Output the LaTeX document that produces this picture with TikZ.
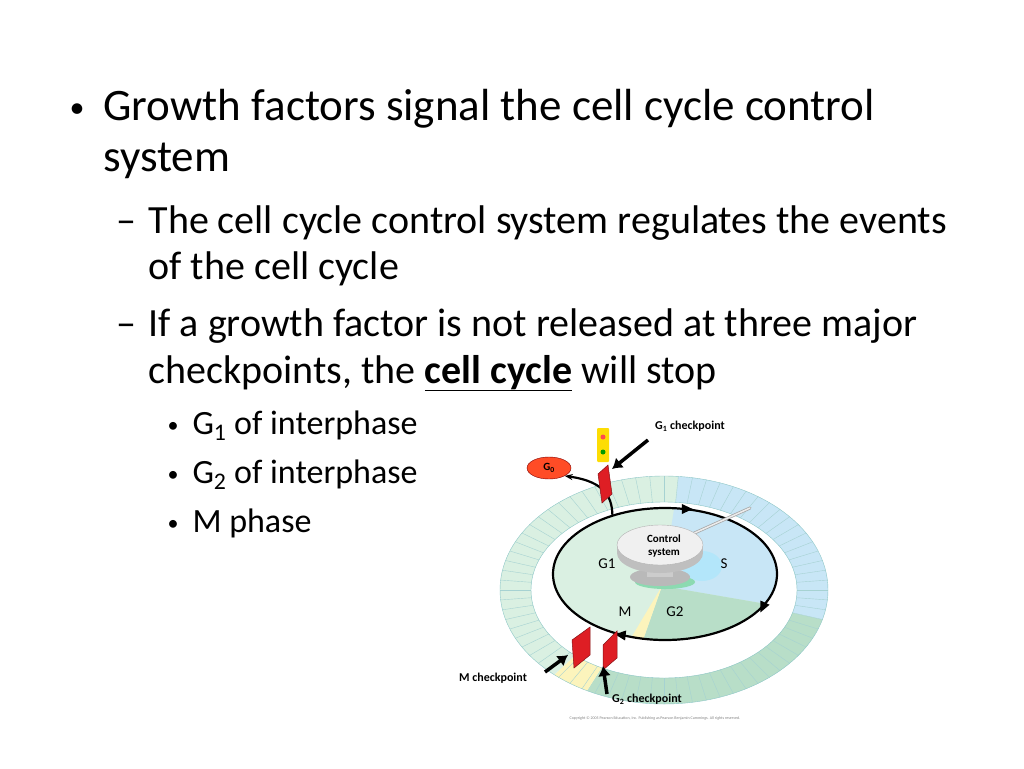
\documentclass[tikz,border=0pt]{standalone}
\usepackage{fontspec}
\setmainfont{Carlito}
\usetikzlibrary{positioning,calc,arrows.meta,shapes.geometric}
\definecolor{gonelight}{RGB}{218,240,226}
\definecolor{sblue}{RGB}{200,230,246}
\definecolor{gtwo}{RGB}{184,222,200}
\definecolor{mphase}{RGB}{252,244,188}
\definecolor{plate}{RGB}{222,30,36}
\begin{document}
\begin{tikzpicture}[x=1pt,y=-1pt,
		bigtext/.style={anchor=base west,font=\fontsize{45}{50}\selectfont},
		midtext/.style={anchor=base west,font=\fontsize{40}{44}\selectfont},
		smalltext/.style={anchor=base west,font=\fontsize{34}{38}\selectfont},
		phase/.style={font=\fontsize{15}{16}\selectfont},
		checklabel/.style={font=\bfseries\fontsize{12}{13}\selectfont},
		redplate/.style={fill=plate,draw=plate!60!black,line width=0.5pt},
		pointer/.style={line width=3.5pt,-{Latex[length=10pt,width=13pt]}},
		cycle/.style={line width=2.2pt,black},
	]
	\useasboundingbox (0,0) rectangle (1024,768);
	% slide text
	\node[bigtext] (b1) at (100,120) {Growth factors signal the cell cycle control};
	\node[bigtext] (b1b) at (100,171) {system};
	\node[font=\fontsize{30}{34}\selectfont,anchor=base east] at (88,117) {\textbullet};
	\node[midtext] (d1) at (145,233) {The cell cycle control system regulates the events};
	\node[midtext] (d1b) at (145,279) {of the cell cycle};
	\node[midtext,anchor=base east] at (140,233) {–};
	\node[midtext] (d2) at (145,336) {If a growth factor is not released at three major};
	\node[midtext] (d2b) at (145,383) {checkpoints, the \textbf{\underline{cell cycle}} will stop};
	\node[midtext,anchor=base east] at (140,336) {–};
	\node[smalltext] (s1) at (189,434) {G\textsubscript{1} of interphase};
	\node[smalltext] (s2) at (189,483) {G\textsubscript{2} of interphase};
	\node[smalltext] (s3) at (189,532) {M phase};
	\foreach \yy in {434,483,532}
		\node[font=\fontsize{22}{26}\selectfont,anchor=base east] at (182,\yy-2) {\textbullet};
	% outer ring
	\coordinate (O) at (664,590);
	\foreach \a/\b/\c in {-85/15/sblue,15/118/gtwo,118/132/mphase,132/275/gonelight}
		\fill[\c] ($(O)+(\a:164 and 114)$) arc[start angle=\a,end angle=\b,x radius=164,y radius=114]
			-- ($(O)+(\b:133 and 88)$) arc[start angle=\b,end angle=\a,x radius=133,y radius=88] -- cycle;
	\foreach \a in {0,5,...,355}
		\draw[white!65!teal,line width=0.4pt] ($(O)+(\a:164 and 114)$) -- ($(O)+(\a:133 and 88)$);
	\draw[white!55!teal,line width=0.4pt] (O) ellipse[x radius=164,y radius=114];
	\draw[white!55!teal,line width=0.4pt] (O) ellipse[x radius=133,y radius=88];
	% inner phases
	\coordinate (C) at (665,574);
	\coordinate (P) at (662,586);
	\begin{scope}
		\clip (C) ellipse[x radius=112,y radius=66];
		\fill[gonelight] (C) ellipse[x radius=112,y radius=66];
		\fill[sblue] (P) -- (677,490) -- (800,490) -- (800,600) -- (778,606) -- cycle;
		\fill[gtwo] (P) -- (778,606) -- (790,700) -- (622,700) -- cycle;
		\fill[mphase] (P) -- (622,700) -- (594,700) -- cycle;
	\end{scope}
	\fill[cyan!30] (702,566) ellipse[x radius=20,y radius=15];
	\fill[green!35!teal!45] (665,582) ellipse[x radius=30,y radius=7];
	% cycle arrow
	\draw[cycle] (C) ellipse[x radius=112,y radius=66];
	\foreach \a/\r in {-80/0,28/-115,112/174}
		\node[fill=black,isosceles triangle,isosceles triangle apex angle=50,inner sep=2.6pt,rotate=\r]
			at ($(C)+(\a:112 and 66)$) {};
	\node[ellipse,fill=red!65!orange!85,draw=red!50!black,minimum width=44pt,minimum height=22pt,inner sep=0pt,
		font=\bfseries\fontsize{11}{12}\selectfont] (gzero) at (549,468) {G\textsubscript{0}};
	\coordinate (branch) at ($(C)+(-118:112 and 66)$);
	\draw[cycle,-{Stealth[length=8pt]}] (branch) .. controls (612,500) and (608,482) .. (gzero.south east);
	% control system
	\draw[gray!70,line width=3pt,line cap=round] (690,535) -- (750,508);
	\draw[white!85!gray,line width=1.5pt,line cap=round] (690,535) -- (750,508);
	\fill[gray!55] (660,577) ellipse[x radius=30,y radius=9];
	\fill[gray!40] (647,560) rectangle (673,577);
	\fill[gray!50] (660,553) ellipse[x radius=43,y radius=20];
	\fill[gray!50] (617,545) rectangle (703,553);
	\filldraw[fill=gray!12,draw=gray!60] (660,545) ellipse[x radius=43,y radius=20];
	\node[font=\bfseries\fontsize{11}{13}\selectfont,align=center] (ctrl) at (664,546) {Control\\system};
	\node[phase] (g1) at (607,564) {G1};
	\node[phase] (s) at (724,564) {S};
	\node[phase] (m) at (625,612) {M};
	\node[phase] (g2) at (675,612) {G2};
	% checkpoints
	\fill[redplate] (598,474) -- (608,465) -- (612,494) -- (602,503) -- cycle;
	\fill[redplate] (572,640) -- (590,627) -- (590,655) -- (574,668) -- cycle;
	\fill[redplate] (603,645) -- (617,631) -- (617,658) -- (603,670) -- cycle;
	\fill[yellow!80!orange,rounded corners=1pt] (597,428) rectangle (609,462);
	\fill[red!70] (603,437) circle (2.5);
	\fill[green!60!black] (603,452) circle (2.5);
	\node[checklabel] (cg1) at (690,426) {G\textsubscript{1} checkpoint};
	\node[checklabel] (cm) at (493,678) {M checkpoint};
	\node[checklabel] (cg2) at (647,699) {G\textsubscript{2} checkpoint};
	\coordinate (g1tip) at (612,469);
	\coordinate (mtip) at (568,655);
	\coordinate (g2tip) at (603,666);
	\draw[pointer] (648,440) -- (g1tip);
	\draw[pointer] (545,672) -- (mtip);
	\draw[pointer] (607,694) -- (g2tip);
	\node[gray,font=\fontsize{4}{5}\selectfont] (copy) at (655,718) {Copyright © 2005 Pearson Education, Inc. Publishing as Pearson Benjamin Cummings. All rights reserved.};
\end{tikzpicture}
\end{document}
